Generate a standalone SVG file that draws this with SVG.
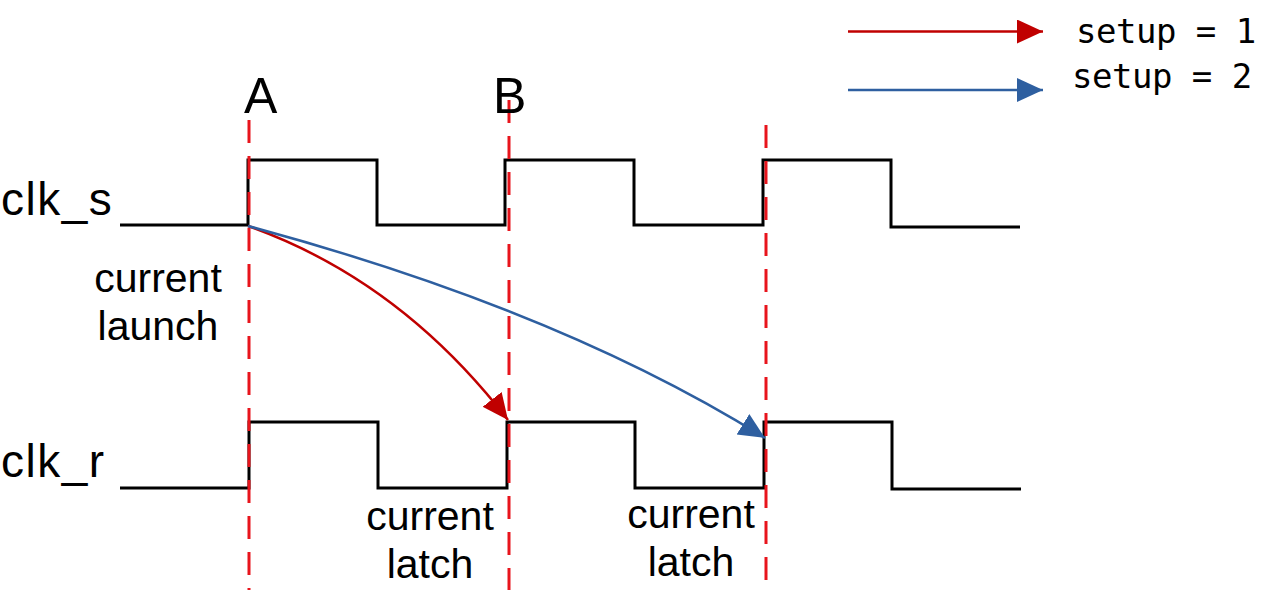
<svg xmlns="http://www.w3.org/2000/svg" width="1262" height="591" viewBox="0 0 1262 591">
<style>
.wave{fill:none;stroke:#000;stroke-width:3;stroke-linejoin:miter}
.dash{stroke:#e8141c;stroke-width:3;stroke-dasharray:23 13;fill:none}
.lbl{font-family:"Liberation Sans",Arial,sans-serif;font-size:41px;fill:#000}
.sig{font-family:"Liberation Sans",Arial,sans-serif;font-size:46px;letter-spacing:1.5px;fill:#000}
.big{font-family:"Liberation Sans",Arial,sans-serif;font-size:50px;fill:#000}
.mono{font-family:"DejaVu Sans Mono","Liberation Mono",monospace;font-size:34px;letter-spacing:-0.5px;fill:#000}
.red{fill:none;stroke:#c00000;stroke-width:2.5}
.blue{fill:none;stroke:#2e5fa0;stroke-width:2.5}
</style>
<defs>
<marker id="ar" markerUnits="userSpaceOnUse" markerWidth="30" markerHeight="30" refX="26" refY="12" orient="auto"><path d="M0,0 L26,12 L0,24 Z" fill="#c00000"/></marker>
<marker id="ab" markerUnits="userSpaceOnUse" markerWidth="30" markerHeight="30" refX="26" refY="12" orient="auto"><path d="M0,0 L26,12 L0,24 Z" fill="#2e5fa0"/></marker>
</defs>
<g id="clk_s">
<path class="wave" d="M120,225 H248 V160 H377 V225 H505 V160 H634 V225 H763 V160 H891 V227 H1020"/>
<text class="sig" x="1" y="215">clk_s</text>
</g>
<g id="clk_r">
<path class="wave" d="M120,488 H249 V422 H378 V488 H507 V422 H635 V488 H764 V422 H892 V489 H1021"/>
<text class="sig" x="1" y="477">clk_r</text>
</g>
<g id="markers">
<path class="dash" d="M249,120 V590"/>
<path class="dash" d="M509,100 V590"/>
<path class="dash" d="M766,125 V590"/>
<text class="big" x="244" y="113">A</text>
<text class="big" x="493" y="113">B</text>
</g>
<g id="labels">
<text class="lbl" x="158" y="292" text-anchor="middle">current</text>
<text class="lbl" x="158" y="340" text-anchor="middle">launch</text>
<text class="lbl" x="430" y="530" text-anchor="middle">current</text>
<text class="lbl" x="430" y="578" text-anchor="middle">latch</text>
<text class="lbl" x="691" y="528" text-anchor="middle">current</text>
<text class="lbl" x="691" y="576" text-anchor="middle">latch</text>
</g>
<g id="connectors">
<path class="red" d="M248,226 Q400,280 508,420" marker-end="url(#ar)"/>
<path class="blue" d="M248,226 Q560,310 765,438" marker-end="url(#ab)"/>
</g>
<g id="legend">
<path class="red" d="M848,31.5 H1043" marker-end="url(#ar)"/>
<path class="blue" d="M848,90 H1043" marker-end="url(#ab)"/>
<text class="mono" x="1076" y="43">setup = 1</text>
<text class="mono" x="1072" y="88">setup = 2</text>
</g>
</svg>
